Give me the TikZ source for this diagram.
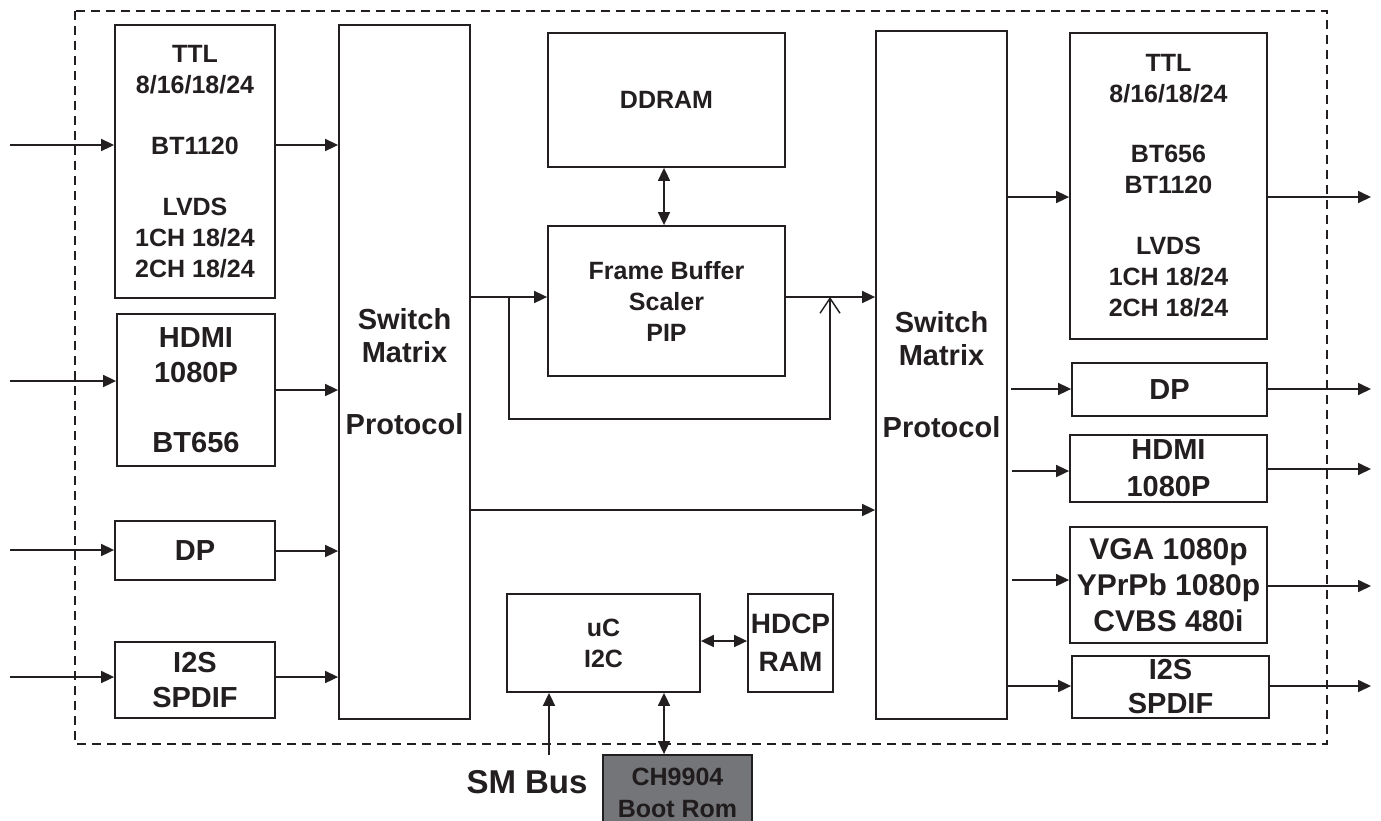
\documentclass[tikz,border=0pt]{standalone}
\usepackage{fontspec}
\setmainfont{Liberation Sans}
\usetikzlibrary{arrows.meta,calc}
\definecolor{ink}{HTML}{231F20}
\definecolor{romgray}{HTML}{747578}
\tikzset{
  box/.style={draw=ink, line width=1.8pt, inner sep=0pt, align=center, text=ink},
  arr/.style={draw=ink, line width=1.7pt, -{Triangle[length=13pt,width=12pt]}},
  biarr/.style={draw=ink, line width=1.7pt, {Triangle[length=13pt,width=12pt]}-{Triangle[length=13pt,width=12pt]}},
  thin/.style={draw=ink, line width=1.4pt},
  fA/.style={font=\bfseries\fontsize{25}{31}\selectfont},
  fB/.style={font=\bfseries\fontsize{29}{35}\selectfont},
  fC/.style={font=\bfseries\fontsize{25}{31}\selectfont},
}
\begin{document}
\begin{tikzpicture}[x=1pt,y=-1pt]
\clip (0,0) rectangle (1381,820);
\fill[white] (0,0) rectangle (1381,820);
% dashed border
\draw[ink, line width=1.5pt, dash pattern=on 9pt off 6pt] (75,11) rectangle (1327,744);

% left column
\node[box,fA,minimum width=160pt,minimum height=273pt] (ttlL) at (195,161.5)
  {TTL\\8/16/18/24\\[30pt]BT1120\\[30pt]LVDS\\1CH 18/24\\2CH 18/24};
\node[box,fB,minimum width=158pt,minimum height=152pt] (hdmiL) at (196,390)
  {HDMI\\1080P\\[35pt]BT656};
\node[box,fB,minimum width=160pt,minimum height=59pt] (dpL) at (195,550.5) {DP};
\node[box,fB,minimum width=160pt,minimum height=76pt] (i2sL) at (195,680) {I2S\\SPDIF};

% switch matrices
\node[box,font=\bfseries\fontsize{29}{33}\selectfont,minimum width=131pt,minimum height=694pt] (swL) at (404.5,372)
  {Switch\\Matrix\\[39pt]Protocol};
\node[box,font=\bfseries\fontsize{29}{33}\selectfont,minimum width=131pt,minimum height=688pt] (swR) at (941.5,375)
  {Switch\\Matrix\\[39pt]Protocol};

% center
\node[box,fA,minimum width=237pt,minimum height=134pt] (ddram) at (666.5,100) {DDRAM};
\node[box,fC,minimum width=237pt,minimum height=150pt] (fb) at (666.5,301) {Frame Buffer\\Scaler\\PIP};
\node[box,fC,minimum width=193pt,minimum height=98pt] (uc) at (603.5,643) {uC\\I2C};
\node[box,font=\bfseries\fontsize{28}{38}\selectfont,minimum width=85pt,minimum height=98pt] (hdcp) at (790.5,643) {HDCP\\RAM};
\node[box,fill=romgray,font=\bfseries\fontsize{25}{32}\selectfont,text=ink!90!black,minimum width=149pt,minimum height=75pt] (rom) at (677.5,792.5) {CH9904\\Boot Rom};
\node[text=ink,font=\bfseries\fontsize{33}{38}\selectfont,inner sep=0pt] (smbus) at (527,782) {SM Bus};

% right column
\node[box,fA,minimum width=197pt,minimum height=306pt] (ttlR) at (1168.5,186)
  {TTL\\8/16/18/24\\[29pt]BT656\\BT1120\\[30pt]LVDS\\1CH 18/24\\2CH 18/24};
\node[box,fB,minimum width=195pt,minimum height=53pt] (dpR) at (1169.5,389.5) {DP};
\node[box,font=\bfseries\fontsize{29}{37}\selectfont,minimum width=197pt,minimum height=67pt] (hdmiR) at (1168.5,468.5) {HDMI\\1080P};
\node[box,font=\bfseries\fontsize{30}{36}\selectfont,minimum width=197pt,minimum height=116pt] (vga) at (1168.5,585) {VGA 1080p\\YPrPb 1080p\\CVBS 480i};
\node[box,font=\bfseries\fontsize{29}{34}\selectfont,minimum width=197pt,minimum height=62pt] (i2sR) at (1170.5,687) {I2S\\SPDIF};

% input coordinates
\coordinate (in1) at (10,145);
\coordinate (in2) at (10,381);
\coordinate (in3) at (10,550);
\coordinate (in4) at (10,677);
\draw[arr] (in1) -- (in1 -| ttlL.west);
\draw[arr] (in2) -- (in2 -| hdmiL.west);
\draw[arr] (in3) -- (in3 -| dpL.west);
\draw[arr] (in4) -- (in4 -| i2sL.west);

% left boxes to switch
\coordinate (l1) at (0,145);
\coordinate (l2) at (0,390);
\coordinate (l3) at (0,551);
\coordinate (l4) at (0,677);
\draw[arr] (l1 -| ttlL.east) -- (l1 -| swL.west);
\draw[arr] (l2 -| hdmiL.east) -- (l2 -| swL.west);
\draw[arr] (l3 -| dpL.east) -- (l3 -| swL.west);
\draw[arr] (l4 -| i2sL.east) -- (l4 -| swL.west);

% middle
\coordinate (m1) at (0,297);
\coordinate (m2) at (0,510);
\coordinate (br) at (509,297);
\coordinate (bp) at (830,297);
\draw[arr] (m1 -| swL.east) -- (m1 -| fb.west);
\draw[thin] (br) -- (509,419) -- (830,419) -- (bp);
\draw[thin,-{Straight Barb[length=15pt,width=20pt,line width=1.4pt]}] (830,340) -- (bp);
\draw[arr] (m1 -| fb.east) -- (m1 -| swR.west);
\draw[arr] (m2 -| swL.east) -- (m2 -| swR.west);
\coordinate (dx) at (664,0);
\draw[biarr] (dx |- ddram.south) -- (dx |- fb.north);

% switch right to outputs
\coordinate (r1) at (0,197);
\coordinate (r2) at (0,389);
\coordinate (r3) at (0,471);
\coordinate (r4) at (0,580);
\coordinate (r5) at (0,686);
\draw[arr] (r1 -| swR.east) -- (r1 -| ttlR.west);
\draw[arr] ($(r2 -| swR.east)+(3,0)$) -- (r2 -| dpR.west);
\draw[arr] ($(r3 -| swR.east)+(4,0)$) -- (r3 -| hdmiR.west);
\draw[arr] ($(r4 -| swR.east)+(4,0)$) -- (r4 -| vga.west);
\draw[arr] (r5 -| swR.east) -- (r5 -| i2sR.west);

% outputs
\coordinate (o1) at (1371,197);
\coordinate (o2) at (1371,389);
\coordinate (o3) at (1371,469);
\coordinate (o4) at (1371,586);
\coordinate (o5) at (1371,686);
\draw[arr] (o1 -| ttlR.east) -- (o1);
\draw[arr] (o2 -| dpR.east) -- (o2);
\draw[arr] (o3 -| hdmiR.east) -- (o3);
\draw[arr] (o4 -| vga.east) -- (o4);
\draw[arr] (o5 -| i2sR.east) -- (o5);

% uC connections
\coordinate (u1) at (0,641);
\draw[biarr] (u1 -| uc.east) -- (u1 -| hdcp.west);
\coordinate (sm) at (549,755);
\draw[arr] (sm) -- (sm |- uc.south);
\draw[biarr] (dx |- rom.north) -- (dx |- uc.south);
\end{tikzpicture}
\end{document}
